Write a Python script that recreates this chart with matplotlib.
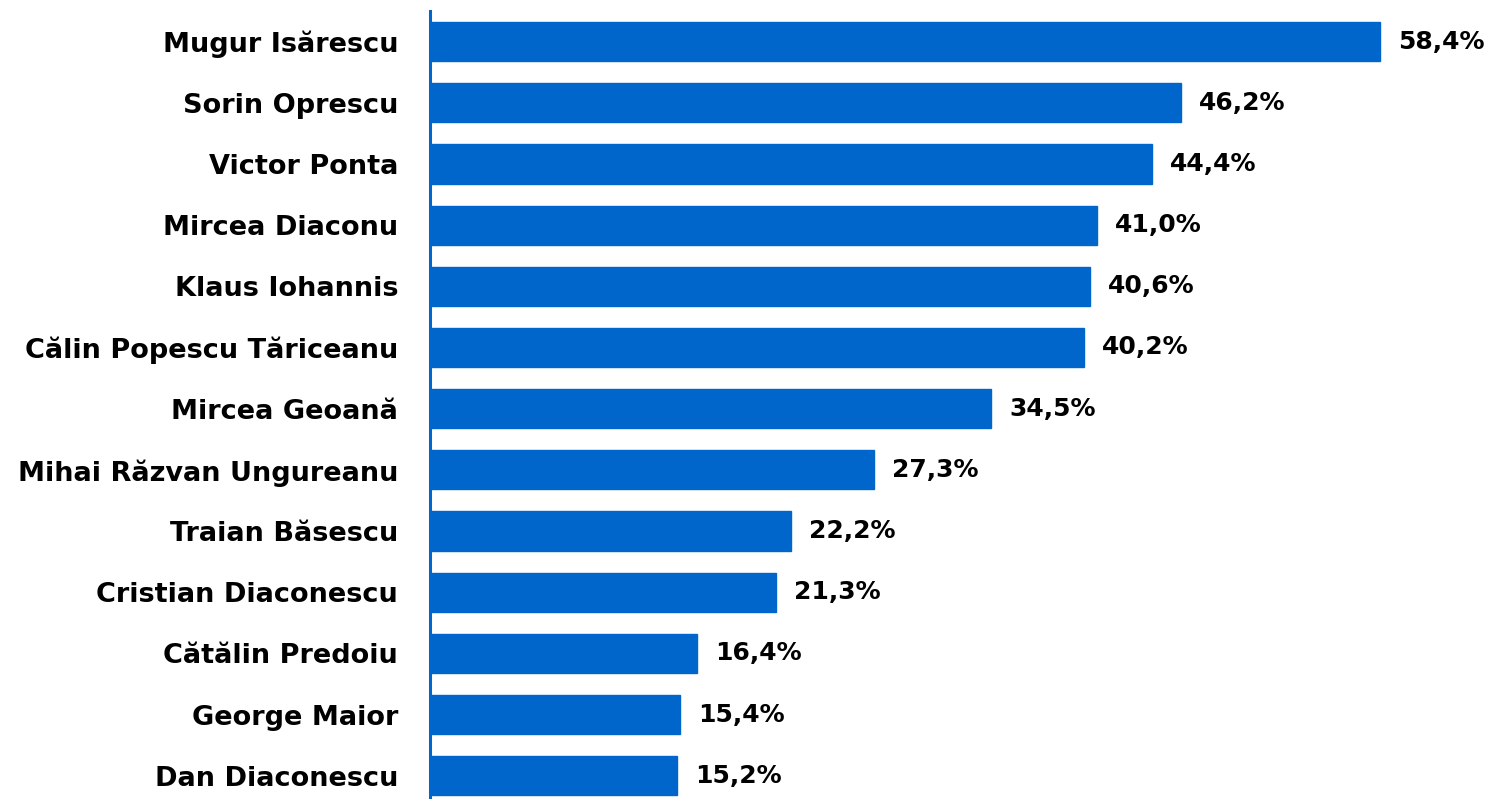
import matplotlib
matplotlib.use("Agg")
import matplotlib.pyplot as plt

names = [
    "Mugur Isărescu", "Sorin Oprescu", "Victor Ponta", "Mircea Diaconu",
    "Klaus Iohannis", "Călin Popescu Tăriceanu", "Mircea Geoană",
    "Mihai Răzvan Ungureanu", "Traian Băsescu", "Cristian Diaconescu",
    "Cătălin Predoiu", "George Maior", "Dan Diaconescu",
]
values = [58.4, 46.2, 44.4, 41.0, 40.6, 40.2, 34.5, 27.3, 22.2, 21.3, 16.4, 15.4, 15.2]

BLUE = "#0066CC"

plt.rcParams["font.family"] = ["DejaVu Sans"]

fig = plt.figure(figsize=(14.87, 7.99), dpi=100)
ax = fig.add_axes([430 / 1487, 0.0, 1 - 430 / 1487, 1 - 11 / 799])

pos = list(range(len(names)))
ax.barh(pos, values, height=0.64, color=BLUE, edgecolor=BLUE, linewidth=1)

ax.set_xlim(0, 65.0)
ax.set_ylim(12.38, -0.5)

for y, v in zip(pos, values):
    ax.annotate(f"{v:.1f}".replace(".", ",") + "%", xy=(v, y), xytext=(13, 0),
                textcoords="offset points", va="center", ha="left",
                fontsize=18, fontweight="bold", color="black")

ax.set_yticks(pos)
ax.set_yticklabels(names, fontsize=19.5, fontweight="bold")
ax.tick_params(axis="y", length=0, pad=23)
ax.set_xticks([])

for side in ["top", "right", "bottom"]:
    ax.spines[side].set_visible(False)
ax.spines["left"].set_color(BLUE)
ax.spines["left"].set_linewidth(2.2)

fig.savefig("out.png", dpi=100)
